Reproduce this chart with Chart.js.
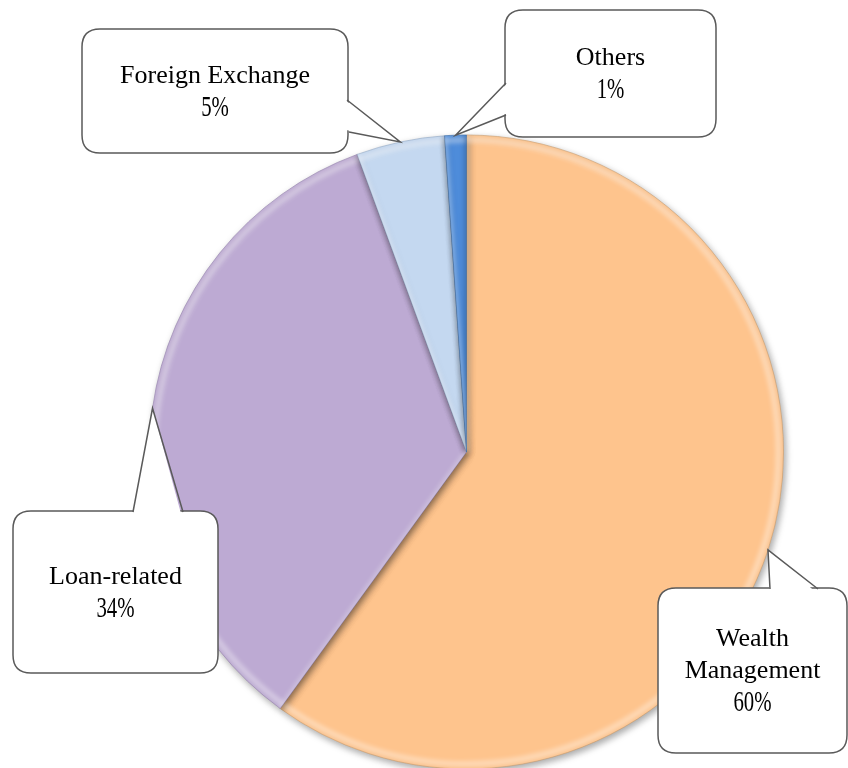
<!DOCTYPE html>
<html>
<head>
<meta charset="utf-8">
<script src="https://cdn.jsdelivr.net/npm/chart.js@4.4.1/dist/chart.umd.min.js"></script>
<style>
html,body{margin:0;padding:0;background:#fff;}
#wrap{width:848px;height:768px;position:relative;}
</style>
</head>
<body>
<div id="wrap"><canvas id="c" width="848" height="768"></canvas></div>
<script>
// ---- data ----
const categories = ["Wealth Management", "Loan-related", "Foreign Exchange", "Others"];
const shares = [60.0, 34.4, 4.5, 1.1];
const shareLabels = ["60%", "34%", "5%", "1%"];
const labelLines = [["Wealth", "Management"], ["Loan-related"], ["Foreign Exchange"], ["Others"]];

// ---- styles / layout ----
const sliceColors = ["#FEC48D", "#BDAAD3", "#C4D8F0", "#4E8CDA"];
const sliceEdge = ["#C89868", "#8F7AA8", "#8DA5C3", "#2A5F9F"];
// callout boxes: [left, top, right, bottom], pointer base points along one edge
const callouts = [
  {box:[658, 588, 847, 753], base:[[770, 589], [818, 589]]},
  {box:[13, 511, 218, 673], base:[[133, 512], [183, 512]]},
  {box:[82, 29, 348, 153], base:[[347, 100], [349, 132]]},
  {box:[505, 10, 716, 137], base:[[506, 83], [506, 115]]}
];

function roundRect(ctx, x0, y0, x1, y1, r){
  ctx.beginPath();
  ctx.moveTo(x0 + r, y0);
  ctx.lineTo(x1 - r, y0);
  ctx.quadraticCurveTo(x1, y0, x1, y0 + r);
  ctx.lineTo(x1, y1 - r);
  ctx.quadraticCurveTo(x1, y1, x1 - r, y1);
  ctx.lineTo(x0 + r, y1);
  ctx.quadraticCurveTo(x0, y1, x0, y1 - r);
  ctx.lineTo(x0, y0 + r);
  ctx.quadraticCurveTo(x0, y0, x0 + r, y0);
  ctx.closePath();
}

const shadowPlugin = {
  id: 'pieShadow',
  beforeDatasetDraw(chart){
    const ctx = chart.ctx;
    ctx.save();
    ctx.shadowColor = 'rgba(0,0,0,0.35)';
    ctx.shadowBlur = 7;
    ctx.shadowOffsetX = 2;
    ctx.shadowOffsetY = 3;
  },
  afterDatasetDraw(chart){
    const ctx = chart.ctx;
    ctx.restore();
    // bevel highlights
    const meta = chart.getDatasetMeta(0);
    meta.data.forEach((arc, i) => {
      const {x, y, startAngle, endAngle, outerRadius} = arc.getProps(['x','y','startAngle','endAngle','outerRadius'], true);
      ctx.save();
      ctx.beginPath();
      ctx.moveTo(x, y);
      ctx.arc(x, y, outerRadius, startAngle, endAngle);
      ctx.closePath();
      ctx.clip();
      ctx.filter = 'blur(2px)';
      ctx.strokeStyle = 'rgba(255,255,255,0.35)';
      ctx.lineWidth = 6;
      ctx.beginPath();
      ctx.arc(x, y, outerRadius - 5, startAngle, endAngle);
      ctx.stroke();
      ctx.strokeStyle = 'rgba(0,0,0,0.16)';
      ctx.lineWidth = 5;
      ctx.beginPath();
      ctx.moveTo(x, y);
      ctx.lineTo(x + outerRadius * Math.cos(endAngle), y + outerRadius * Math.sin(endAngle));
      ctx.stroke();
      ctx.strokeStyle = 'rgba(255,255,255,0.3)';
      ctx.beginPath();
      ctx.moveTo(x, y);
      ctx.lineTo(x + outerRadius * Math.cos(startAngle), y + outerRadius * Math.sin(startAngle));
      ctx.stroke();
      ctx.restore();
    });
  }
};

const calloutPlugin = {
  id: 'callouts',
  afterDraw(chart){
    const ctx = chart.ctx;
    const meta = chart.getDatasetMeta(0);
    meta.data.forEach((arc, i) => {
      const {x, y, startAngle, endAngle, outerRadius} = arc.getProps(['x','y','startAngle','endAngle','outerRadius'], true);
      const mid = (startAngle + endAngle) / 2;
      const tx = x + outerRadius * Math.cos(mid);
      const ty = y + outerRadius * Math.sin(mid);
      const c = callouts[i];
      const [x0, y0, x1, y1] = c.box;
      ctx.save();
      roundRect(ctx, x0, y0, x1, y1, 18);
      ctx.fillStyle = '#fff';
      ctx.fill();
      ctx.strokeStyle = '#5a5a5a';
      ctx.lineWidth = 1.5;
      ctx.stroke();
      // pointer
      const [b1, b2] = c.base;
      const cx = (x0 + x1) / 2, cy = (y0 + y1) / 2;
      ctx.beginPath();
      ctx.moveTo(b1[0] + (cx - b1[0]) * 0.02, b1[1] + (cy - b1[1]) * 0.05);
      ctx.lineTo(tx, ty);
      ctx.lineTo(b2[0] + (cx - b2[0]) * 0.02, b2[1] + (cy - b2[1]) * 0.05);
      ctx.closePath();
      ctx.fill();
      ctx.beginPath();
      ctx.moveTo(b1[0], b1[1]);
      ctx.lineTo(tx, ty);
      ctx.lineTo(b2[0], b2[1]);
      ctx.stroke();
      // text
      const lines = labelLines[i];
      const n = lines.length + 1;
      const lh = 32;
      const tcx = (x0 + x1) / 2;
      const tcy = (y0 + y1) / 2 + 1;
      let ty0 = tcy - (n - 1) * lh / 2;
      ctx.fillStyle = '#000';
      ctx.textAlign = 'center';
      ctx.textBaseline = 'middle';
      ctx.font = '26px "Liberation Serif", "Times New Roman", serif';
      lines.forEach((ln, k) => ctx.fillText(ln, tcx, ty0 + k * lh));
      ctx.save();
      ctx.translate(tcx, ty0 + lines.length * lh);
      ctx.scale(0.8, 1.1);
      ctx.font = '26px "Liberation Serif", "Times New Roman", serif';
      ctx.fillText(shareLabels[i], 0, 0);
      ctx.restore();
      ctx.restore();
    });
  }
};

new Chart(document.getElementById('c'), {
  type: 'pie',
  data: {
    labels: categories,
    datasets: [{
      data: shares,
      backgroundColor: sliceColors,
      borderColor: sliceEdge,
      borderWidth: 0.6,
      clip: false
    }]
  },
  options: {
    responsive: false,
    animation: false,
    radius: 317,
    layout: {padding: {left: 85, right: 0, top: 136, bottom: 0}},
    plugins: {legend: {display: false}, tooltip: {enabled: false}}
  },
  plugins: [shadowPlugin, calloutPlugin]
});
</script>
</body>
</html>
